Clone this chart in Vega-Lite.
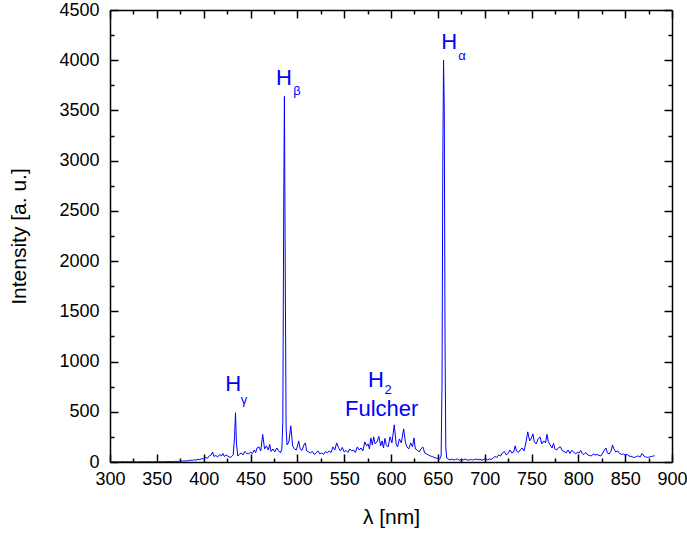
{
  "$schema": "https://vega.github.io/schema/vega-lite/v6.json",
  "width": 562,
  "height": 452,
  "autosize": {"type": "none"},
  "padding": {"left": 110, "top": 10, "right": 15, "bottom": 71},
  "background": "white",
  "config": {
    "view": {"stroke": null},
    "axis": {
      "domainColor": "black", "tickColor": "black", "labelColor": "black", "titleColor": "black",
      "labelFont": "Liberation Sans", "titleFont": "Liberation Sans", "grid": false,
      "domainWidth": 1.5, "tickWidth": 1.5, "labelFontSize": 18, "titleFontSize": 21, "titleFontWeight": "normal",
      "labelFlush": false, "labelOverlap": false, "format": "d"
    }
  },
  "datasets": {
    "spec": [
      {"lam":300,"val":3},{"lam":302,"val":1},{"lam":304,"val":4},{"lam":306,"val":2},{"lam":308,"val":0},{"lam":310,"val":3},{"lam":312,"val":2},{"lam":314,"val":5},{"lam":316,"val":1},{"lam":318,"val":3},{"lam":320,"val":2},{"lam":322,"val":4},{"lam":324,"val":1},{"lam":326,"val":3},{"lam":328,"val":2},{"lam":330,"val":0},{"lam":332,"val":4},{"lam":334,"val":2},{"lam":336,"val":3},{"lam":338,"val":1},{"lam":340,"val":5},{"lam":342,"val":2},{"lam":344,"val":3},{"lam":346,"val":1},{"lam":348,"val":4},{"lam":350,"val":2},{"lam":352,"val":3},{"lam":354,"val":5},{"lam":356,"val":2},{"lam":358,"val":4},{"lam":360,"val":3},{"lam":362,"val":6},{"lam":364,"val":3},{"lam":366,"val":5},{"lam":368,"val":4},{"lam":370,"val":7},{"lam":372,"val":5},{"lam":374,"val":8},{"lam":376,"val":6},{"lam":378,"val":10},{"lam":380,"val":9},{"lam":382,"val":14},{"lam":384,"val":12},{"lam":386,"val":18},{"lam":388,"val":15},{"lam":390,"val":22},{"lam":392,"val":19},{"lam":394,"val":28},{"lam":396,"val":24},{"lam":398,"val":35},{"lam":400,"val":30},{"lam":402,"val":45},{"lam":404,"val":38},{"lam":406,"val":60},{"lam":408,"val":70},{"lam":409.5,"val":100},{"lam":411,"val":55},{"lam":413,"val":65},{"lam":415,"val":50},{"lam":417,"val":75},{"lam":419,"val":60},{"lam":420.5,"val":85},{"lam":422,"val":55},{"lam":424,"val":70},{"lam":426,"val":58},{"lam":428,"val":45},{"lam":430,"val":55},{"lam":431.5,"val":70},{"lam":433,"val":250},{"lam":434,"val":490},{"lam":435,"val":180},{"lam":436.5,"val":60},{"lam":438,"val":75},{"lam":440,"val":90},{"lam":442,"val":70},{"lam":444,"val":105},{"lam":446,"val":85},{"lam":448,"val":80},{"lam":450,"val":100},{"lam":452,"val":85},{"lam":454,"val":120},{"lam":455.5,"val":95},{"lam":457,"val":140},{"lam":459,"val":150},{"lam":461,"val":110},{"lam":463,"val":275},{"lam":465,"val":130},{"lam":467,"val":160},{"lam":469,"val":120},{"lam":470.5,"val":175},{"lam":472,"val":105},{"lam":474,"val":130},{"lam":476,"val":100},{"lam":478,"val":140},{"lam":480,"val":110},{"lam":482,"val":90},{"lam":483.5,"val":130},{"lam":484.5,"val":400},{"lam":485.5,"val":2600},{"lam":486.2,"val":3640},{"lam":487,"val":2100},{"lam":488,"val":350},{"lam":489,"val":170},{"lam":491,"val":200},{"lam":493,"val":360},{"lam":495,"val":160},{"lam":497,"val":130},{"lam":499,"val":120},{"lam":501.5,"val":210},{"lam":503,"val":130},{"lam":505,"val":115},{"lam":507,"val":170},{"lam":508.5,"val":190},{"lam":510,"val":110},{"lam":512,"val":100},{"lam":514,"val":90},{"lam":516,"val":105},{"lam":518,"val":75},{"lam":520,"val":90},{"lam":522,"val":110},{"lam":524,"val":80},{"lam":526,"val":90},{"lam":528,"val":75},{"lam":530,"val":105},{"lam":532,"val":90},{"lam":534,"val":110},{"lam":536,"val":95},{"lam":538,"val":150},{"lam":540,"val":120},{"lam":542,"val":190},{"lam":544,"val":140},{"lam":546,"val":110},{"lam":548,"val":145},{"lam":550,"val":100},{"lam":552,"val":115},{"lam":554,"val":95},{"lam":556,"val":130},{"lam":558,"val":110},{"lam":560,"val":120},{"lam":562,"val":95},{"lam":564,"val":150},{"lam":566,"val":120},{"lam":568,"val":140},{"lam":570,"val":110},{"lam":572,"val":200},{"lam":574,"val":160},{"lam":575.5,"val":180},{"lam":577,"val":130},{"lam":578.5,"val":240},{"lam":580,"val":170},{"lam":581.5,"val":250},{"lam":583,"val":180},{"lam":585,"val":200},{"lam":587,"val":255},{"lam":589,"val":160},{"lam":590.5,"val":210},{"lam":592,"val":140},{"lam":593.5,"val":235},{"lam":595,"val":170},{"lam":597,"val":150},{"lam":599,"val":250},{"lam":601,"val":190},{"lam":603.5,"val":370},{"lam":605.5,"val":180},{"lam":607,"val":150},{"lam":609,"val":230},{"lam":611,"val":190},{"lam":613.5,"val":330},{"lam":615.5,"val":190},{"lam":617,"val":150},{"lam":619,"val":130},{"lam":621,"val":190},{"lam":623,"val":150},{"lam":624.5,"val":240},{"lam":626,"val":130},{"lam":628,"val":120},{"lam":630,"val":100},{"lam":632,"val":130},{"lam":634,"val":150},{"lam":636,"val":90},{"lam":638,"val":80},{"lam":640,"val":70},{"lam":642,"val":60},{"lam":644,"val":55},{"lam":646,"val":45},{"lam":648,"val":40},{"lam":650,"val":35},{"lam":652,"val":30},{"lam":653.5,"val":60},{"lam":654.5,"val":800},{"lam":655.3,"val":3000},{"lam":656.1,"val":4000},{"lam":656.9,"val":3500},{"lam":657.7,"val":1200},{"lam":658.5,"val":150},{"lam":659.5,"val":40},{"lam":661,"val":30},{"lam":663,"val":22},{"lam":665,"val":28},{"lam":667,"val":20},{"lam":669,"val":25},{"lam":671,"val":30},{"lam":673,"val":18},{"lam":675,"val":24},{"lam":677,"val":20},{"lam":679,"val":30},{"lam":681,"val":22},{"lam":683,"val":18},{"lam":685,"val":26},{"lam":687,"val":20},{"lam":689,"val":24},{"lam":691,"val":30},{"lam":693,"val":22},{"lam":695,"val":28},{"lam":697,"val":18},{"lam":699,"val":25},{"lam":701,"val":35},{"lam":703,"val":22},{"lam":705,"val":30},{"lam":707,"val":25},{"lam":709,"val":40},{"lam":711,"val":55},{"lam":713,"val":45},{"lam":715,"val":70},{"lam":717,"val":60},{"lam":719,"val":90},{"lam":721,"val":105},{"lam":723,"val":70},{"lam":725,"val":85},{"lam":727,"val":120},{"lam":729,"val":90},{"lam":731,"val":100},{"lam":732.5,"val":160},{"lam":734,"val":110},{"lam":736,"val":95},{"lam":738,"val":120},{"lam":740,"val":140},{"lam":742,"val":110},{"lam":744,"val":190},{"lam":746,"val":300},{"lam":748,"val":210},{"lam":749.5,"val":230},{"lam":751.5,"val":280},{"lam":753,"val":200},{"lam":755,"val":180},{"lam":757,"val":230},{"lam":759,"val":250},{"lam":761,"val":180},{"lam":763,"val":210},{"lam":765,"val":190},{"lam":766.5,"val":275},{"lam":768,"val":200},{"lam":770,"val":170},{"lam":772,"val":140},{"lam":773.5,"val":185},{"lam":775,"val":130},{"lam":777,"val":120},{"lam":779,"val":145},{"lam":781,"val":150},{"lam":783,"val":110},{"lam":785,"val":105},{"lam":787,"val":90},{"lam":789,"val":120},{"lam":791,"val":85},{"lam":793,"val":115},{"lam":795,"val":100},{"lam":797,"val":80},{"lam":799,"val":95},{"lam":801,"val":90},{"lam":802.5,"val":115},{"lam":804,"val":85},{"lam":806,"val":75},{"lam":808,"val":95},{"lam":810,"val":70},{"lam":812,"val":65},{"lam":814,"val":60},{"lam":816,"val":80},{"lam":818,"val":70},{"lam":820,"val":75},{"lam":822,"val":65},{"lam":824,"val":60},{"lam":826,"val":90},{"lam":828,"val":120},{"lam":829.5,"val":140},{"lam":831,"val":90},{"lam":833,"val":80},{"lam":835,"val":110},{"lam":836.5,"val":170},{"lam":838,"val":130},{"lam":840,"val":100},{"lam":842,"val":110},{"lam":844,"val":85},{"lam":846,"val":75},{"lam":848,"val":80},{"lam":850,"val":70},{"lam":852,"val":75},{"lam":854,"val":60},{"lam":856,"val":55},{"lam":858,"val":50},{"lam":860,"val":45},{"lam":862,"val":55},{"lam":864,"val":60},{"lam":866,"val":50},{"lam":868,"val":85},{"lam":870,"val":60},{"lam":872,"val":50},{"lam":874,"val":45},{"lam":876,"val":50},{"lam":878,"val":55},{"lam":880,"val":60},{"lam":881.5,"val":62}
    ],
    "main": [
      {"lam": 662, "val": 4180, "txt": "H"},
      {"lam": 485.8, "val": 3822, "txt": "H"},
      {"lam": 431.6, "val": 778, "txt": "H"},
      {"lam": 583.8, "val": 820, "txt": "H"},
      {"lam": 590, "val": 530, "txt": "Fulcher"}
    ],
    "sub": [
      {"lam": 675.8, "val": 4047, "txt": "α"},
      {"lam": 499.6, "val": 3689, "txt": "β"},
      {"lam": 443, "val": 620, "txt": "γ"},
      {"lam": 596.8, "val": 718, "txt": "2"}
    ]
  },
  "layer": [
    {
      "data": {"name": "spec"},
      "mark": {"type": "line", "color": "#0000ff", "strokeWidth": 1, "clip": true},
      "encoding": {
        "x": {"field": "lam", "type": "quantitative", "scale": {"domain": [300, 900], "nice": false, "zero": false},
              "axis": {"orient": "bottom", "values": [300,350,400,450,500,550,600,650,700,750,800,850,900], "tickSize": -8, "labelPadding": 16, "title": "λ [nm]", "titlePadding": 18}},
        "y": {"field": "val", "type": "quantitative", "scale": {"domain": [0, 4500], "nice": false, "zero": true},
              "axis": {"orient": "left", "values": [0,500,1000,1500,2000,2500,3000,3500,4000,4500], "tickSize": -8, "labelPadding": 19, "title": "Intensity [a. u.]", "titlePadding": 29}}
      }
    },
    {
      "data": {"name": "spec"},
      "mark": {"type": "line", "opacity": 0},
      "encoding": {
        "x": {"field": "lam", "type": "quantitative", "axis": {"orient": "top", "values": [300,350,400,450,500,550,600,650,700,750,800,850,900], "tickSize": -8, "labels": false, "title": null}},
        "y": {"field": "val", "type": "quantitative", "axis": {"orient": "right", "values": [0,500,1000,1500,2000,2500,3000,3500,4000,4500], "tickSize": -8, "labels": false, "title": null}}
      }
    },
    {
      "data": {"name": "spec"},
      "mark": {"type": "line", "opacity": 0},
      "encoding": {
        "x": {"field": "lam", "type": "quantitative", "axis": {"orient": "bottom", "values": [325,375,425,475,525,575,625,675,725,775,825,875], "tickSize": -4, "labels": false, "domain": false, "title": null}},
        "y": {"field": "val", "type": "quantitative", "axis": {"orient": "left", "values": [250,750,1250,1750,2250,2750,3250,3750,4250], "tickSize": -4, "labels": false, "domain": false, "title": null}}
      }
    },
    {
      "data": {"name": "spec"},
      "mark": {"type": "line", "opacity": 0},
      "encoding": {
        "x": {"field": "lam", "type": "quantitative", "axis": {"orient": "top", "values": [325,375,425,475,525,575,625,675,725,775,825,875], "tickSize": -4, "labels": false, "domain": false, "title": null}},
        "y": {"field": "val", "type": "quantitative", "axis": {"orient": "right", "values": [250,750,1250,1750,2250,2750,3250,3750,4250], "tickSize": -4, "labels": false, "domain": false, "title": null}}
      }
    },
    {
      "data": {"name": "main"},
      "mark": {"type": "text", "color": "#0000ff", "font": "Liberation Sans", "fontSize": 22, "align": "center", "baseline": "middle"},
      "encoding": {
        "x": {"field": "lam", "type": "quantitative", "axis": null},
        "y": {"field": "val", "type": "quantitative", "axis": null},
        "text": {"field": "txt"}
      }
    },
    {
      "data": {"name": "sub"},
      "mark": {"type": "text", "color": "#0000ff", "font": "Liberation Sans", "fontSize": 13, "align": "center", "baseline": "middle"},
      "encoding": {
        "x": {"field": "lam", "type": "quantitative", "axis": null},
        "y": {"field": "val", "type": "quantitative", "axis": null},
        "text": {"field": "txt"}
      }
    }
  ],
  "resolve": {"axis": {"x": "independent", "y": "independent"}}
}
